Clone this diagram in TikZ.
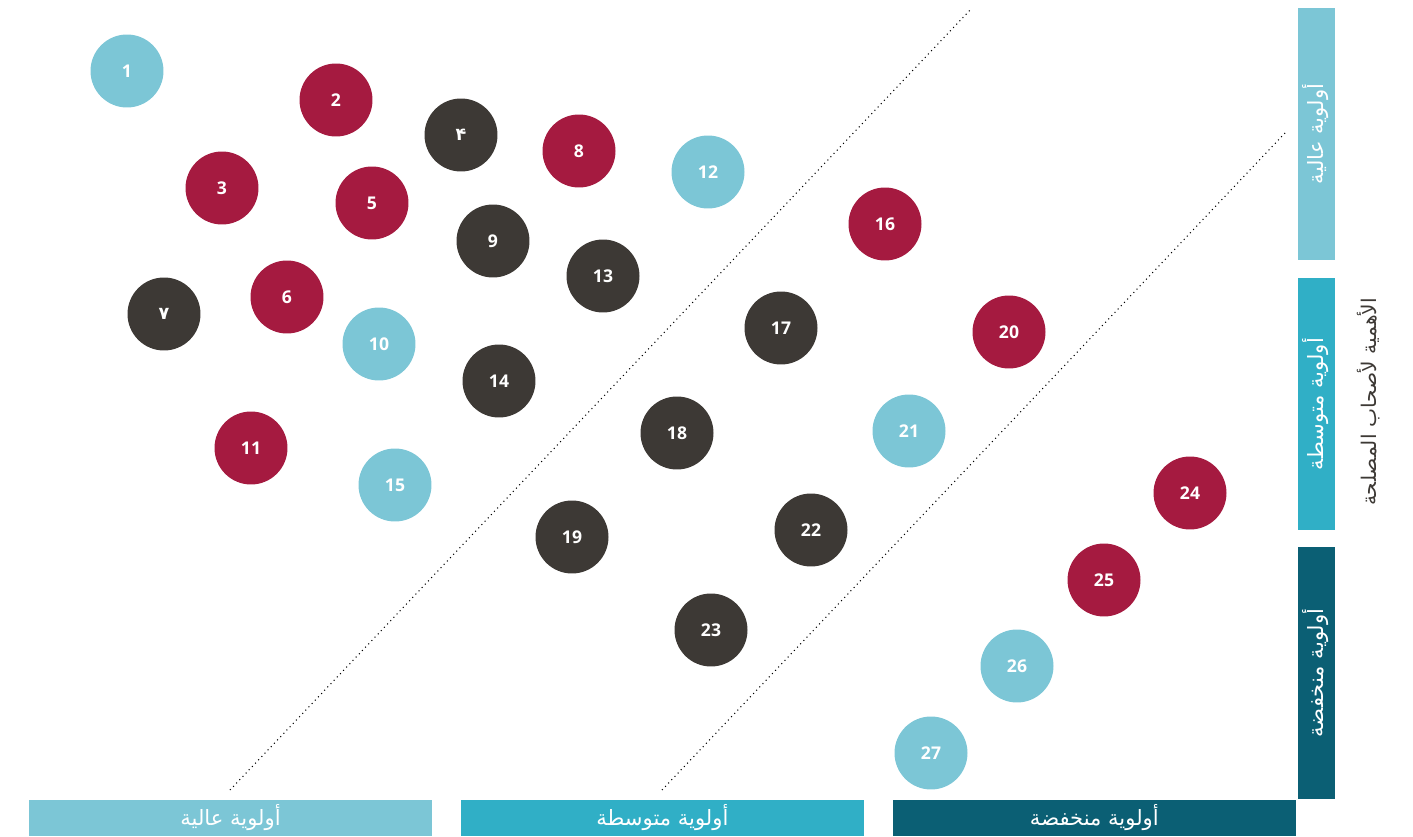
\documentclass[tikz,border=0pt]{standalone}
\usepackage{fontspec}
\setmainfont{Open Sans}
\newfontfamily\arabicfont[Script=Arabic]{DejaVu Sans}
\TeXXeTstate=1
\usetikzlibrary{positioning}

\definecolor{lightblue}{HTML}{7CC6D6}
\definecolor{midblue}{HTML}{30AFC6}
\definecolor{darkteal}{HTML}{0B5F74}
\definecolor{crimson}{HTML}{A51A40}
\definecolor{charcoal}{HTML}{3D3935}

\begin{document}
\begin{tikzpicture}[x=0.02cm, y=-0.02cm,
    dot/.style={circle, minimum size=1.46cm, inner sep=0pt, text=white, font=\fontsize{10}{12}\selectfont\bfseries},
    high/.style={dot, fill=crimson},
    light/.style={dot, fill=lightblue},
    dark/.style={dot, fill=charcoal},
    bar/.style={rectangle, minimum width=8.06cm, minimum height=0.72cm, inner sep=0pt, outer sep=0pt, text=white, font=\arabicfont\fontsize{12}{14}\selectfont},
    sidebar/.style={bar, minimum width=5.04cm, minimum height=0.74cm, rotate=90},
    divider/.style={dotted, semithick, black}]

    \useasboundingbox (0,0) rectangle (1413,837);

    % priority divisions
    \coordinate (d1a) at (230,790);
    \coordinate (d1b) at (972,8);
    \coordinate (d2a) at (662,790);
    \coordinate (d2b) at (1285,133);
    \draw[divider] (d1a) -- (d1b);
    \draw[divider] (d2a) -- (d2b);

    % issues
    \node (n1) [light] at (127,71) {1};
    \node (n2) [high] at (336,100) {2};
    \node (n3) [high] at (222,188) {3};
    \node (n4) [dark] at (461,135) {\arabicfont ۴};
    \node (n5) [high] at (372,203) {5};
    \node (n6) [high] at (287,297) {6};
    \node (n7) [dark] at (164,314) {\arabicfont ٧};
    \node (n8) [high] at (579,151) {8};
    \node (n9) [dark] at (493,241) {9};
    \node (n10) [light] at (379,344) {10};
    \node (n11) [high] at (251,448) {11};
    \node (n12) [light] at (708,172) {12};
    \node (n13) [dark] at (603,276) {13};
    \node (n14) [dark] at (499,381) {14};
    \node (n15) [light] at (395,485) {15};
    \node (n16) [high] at (885,224) {16};
    \node (n17) [dark] at (781,328) {17};
    \node (n18) [dark] at (677,433) {18};
    \node (n19) [dark] at (572,537) {19};
    \node (n20) [high] at (1009,332) {20};
    \node (n21) [light] at (909,431) {21};
    \node (n22) [dark] at (811,530) {22};
    \node (n23) [dark] at (711,630) {23};
    \node (n24) [high] at (1190,493) {24};
    \node (n25) [high] at (1104,580) {25};
    \node (n26) [light] at (1017,666) {26};
    \node (n27) [light] at (931,753) {27};

    % bottom axis
    \node (hibar) [bar, fill=lightblue] at (230.5,818) {\beginR أولوية عالية\endR};
    \node (midbar) [bar, fill=midblue, right=0.58cm of hibar] {\beginR أولوية متوسطة\endR};
    \node (lobar) [bar, fill=darkteal, right=0.58cm of midbar] {\beginR أولوية منخفضة\endR};

    % side axis
    \node (hiside) [sidebar, fill=lightblue] at (1316,134) {\beginR أولوية عالية\endR};
    \node (midside) [sidebar, fill=midblue] at (1316,404) {\beginR أولوية متوسطة\endR};
    \node (loside) [sidebar, fill=darkteal] at (1316,673) {\beginR أولوية منخفضة\endR};
    \node (axis) [rotate=90, text=charcoal, font=\arabicfont\fontsize{11.5}{14}\selectfont] at (1369,402) {\beginR الأهمية لأصحاب المصلحة\endR};
\end{tikzpicture}
\end{document}
